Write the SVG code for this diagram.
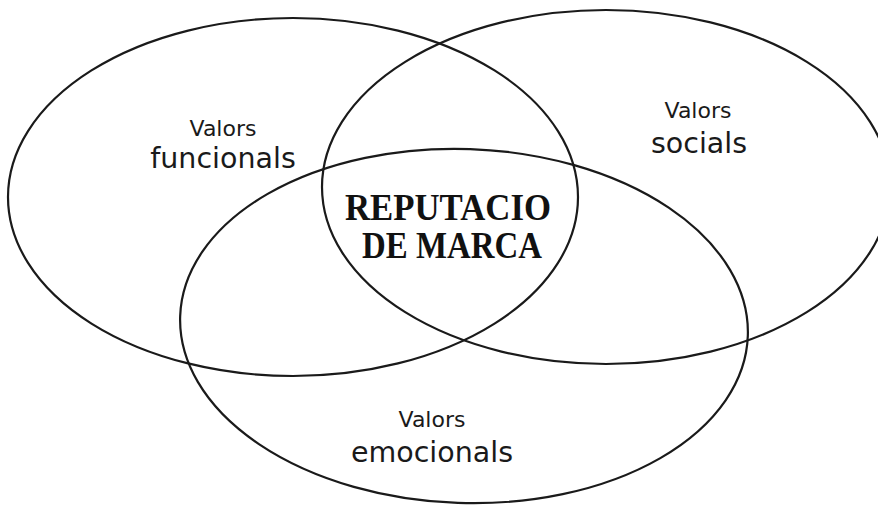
<svg xmlns="http://www.w3.org/2000/svg" width="878" height="505" viewBox="0 0 878 505">
<style>
.ring{fill:none;stroke:#1a1a1a;stroke-width:2.2}
.small{font-family:"DejaVu Sans","Liberation Sans",sans-serif;font-size:22px;fill:#1a1a1a;text-anchor:middle}
.big{font-family:"DejaVu Sans","Liberation Sans",sans-serif;font-size:28.5px;fill:#1a1a1a;text-anchor:middle}
.core{font-family:"Liberation Serif","Times New Roman",serif;font-weight:bold;font-size:38px;fill:#111111;text-anchor:middle}
</style>
<rect width="878" height="505" fill="#ffffff"/>
<g id="connectors"></g>
<g id="funcionals">
<ellipse class="ring" cx="293" cy="197" rx="285" ry="179"/>
<text class="small" x="223" y="136">Valors</text>
<text class="big" x="223" y="168">funcionals</text>
</g>
<g id="socials">
<ellipse class="ring" cx="606" cy="187" rx="284" ry="177"/>
<text class="small" x="698" y="118">Valors</text>
<text class="big" x="699" y="153">socials</text>
</g>
<g id="emocionals">
<ellipse class="ring" cx="464" cy="326" rx="284" ry="177" transform="rotate(2 464 326)"/>
<text class="small" x="432" y="427">Valors</text>
<text class="big" x="432" y="462">emocionals</text>
</g>
<g id="reputacio">
<text class="core" x="448" y="220" textLength="206" lengthAdjust="spacingAndGlyphs">REPUTACIO</text>
<text class="core" x="452" y="258" textLength="180" lengthAdjust="spacingAndGlyphs">DE MARCA</text>
</g>
</svg>
